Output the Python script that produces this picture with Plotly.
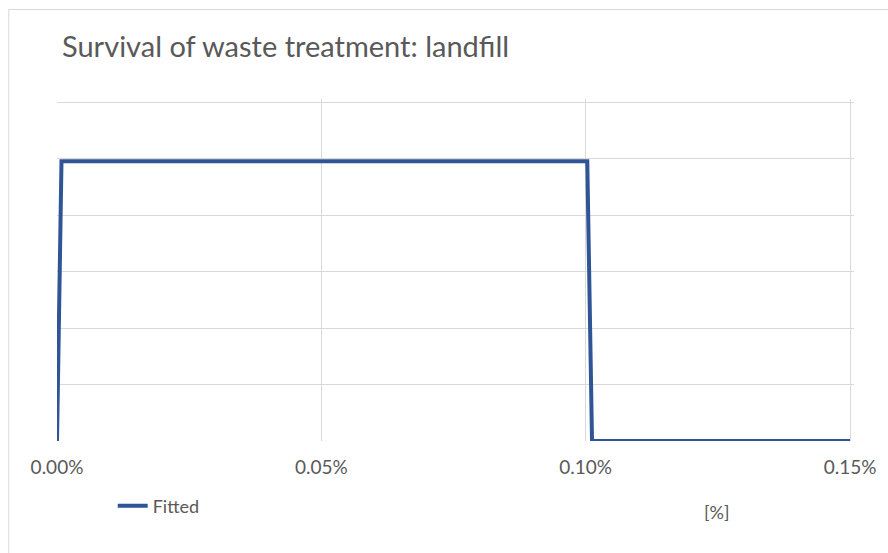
import plotly.graph_objects as go

# Survival curve of the landfill treatment (fitted)
share = [0.0, 0.0000085, 0.001003, 0.001012, 0.0015]
survival = [0.0, 0.99, 0.99, 0.0, 0.0]
x_ticks = [0.0, 0.0005, 0.001, 0.0015]
x_tick_labels = ["0.00%", "0.05%", "0.10%", "0.15%"]
y_grid = [0, 0.2, 0.4, 0.6, 0.8, 1.0, 1.2]

TXT = "#595959"
GRID = "#d9d9d9"
FONT = "Lato, 'Open Sans', sans-serif"

# plot box: x 57..858 px, y 99..441 px; the last grid lines sit just inside
L, R, T, B = 57, 30, 99, 112
W, H = 888 - L - R, 553 - T - B
x_max = 0.0015 * W / 797
y_max = 1.2 * H / 339

fig = go.Figure()
fig.add_trace(go.Scatter(
    x=share, y=survival, mode="lines", name="Fitted",
    line=dict(color="#2f5597", width=4),
))

fig.update_layout(
    width=888, height=553,
    margin=dict(l=L, r=R, t=T, b=B),
    paper_bgcolor="white", plot_bgcolor="white",
    font=dict(family=FONT, color=TXT),
    title=dict(text="Survival of waste treatment: landfill",
               x=62 / 888, xanchor="left", y=1 - 47 / 553, yanchor="middle",
               font=dict(size=29, color=TXT, family=FONT)),
    xaxis=dict(range=[0, x_max], tickvals=x_ticks, ticktext=x_tick_labels,
               showgrid=True, gridcolor=GRID, gridwidth=1, zeroline=False,
               showline=False, ticks="outside", ticklen=9,
               tickcolor="rgba(0,0,0,0)",
               tickfont=dict(size=19, color=TXT)),
    yaxis=dict(range=[0, y_max], tickvals=y_grid,
               showgrid=True, gridcolor=GRID,
               gridwidth=1, zeroline=False, showline=False,
               showticklabels=False, ticks=""),
    showlegend=True,
    legend=dict(orientation="h", x=(121 - 57) / W - 0.01, y=(441 - 506) / H,
                xanchor="left", yanchor="middle",
                font=dict(size=18, color=TXT)),
    annotations=[dict(text="[%]", xref="paper", yref="paper",
                      x=(720 - 57) / W, y=(441 - 512) / H,
                      xanchor="center", yanchor="middle", showarrow=False,
                      font=dict(size=18, color=TXT))],
    shapes=[dict(type="rect", xref="paper", yref="paper",
                 x0=(8.5 - 57) / W, x1=(900 - 57) / W,
                 y0=(441 - 560) / H, y1=(441 - 9.5) / H,
                 line=dict(color=GRID, width=1), layer="below")],
)

fig.write_html("out.html")
